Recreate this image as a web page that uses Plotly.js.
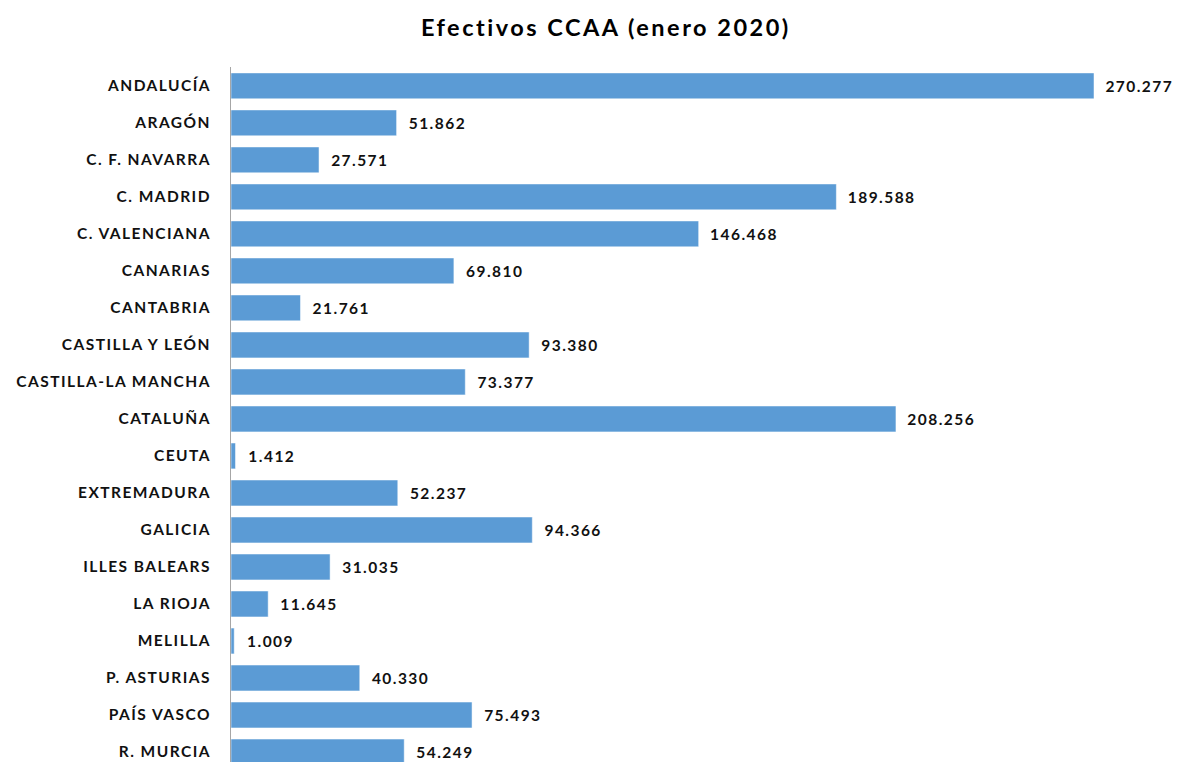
<!DOCTYPE html>
<html>
<head>
<meta charset="utf-8">
<script src="https://cdn.plot.ly/plotly-3.0.1.min.js"></script>
<style>
html,body{margin:0;padding:0;background:#fff;}
#chart{width:1181px;height:762px;}
#chart .ytick text{letter-spacing:1.45px;}
#chart .textpoint text, #chart text.bartext{letter-spacing:1.45px;}
#chart .gtitle{letter-spacing:2.5px;}
</style>
</head>
<body>
<div id="chart"></div>
<script>
const categories = ["ANDALUCÍA","ARAGÓN","C. F. NAVARRA","C. MADRID","C. VALENCIANA","CANARIAS","CANTABRIA","CASTILLA Y LEÓN","CASTILLA-LA MANCHA","CATALUÑA","CEUTA","EXTREMADURA","GALICIA","ILLES BALEARS","LA RIOJA","MELILLA","P. ASTURIAS","PAÍS VASCO","R. MURCIA"];
const efectivos = [270277,51862,27571,189588,146468,69810,21761,93380,73377,208256,1412,52237,94366,31035,11645,1009,40330,75493,54249];
const chartTitle = "Efectivos CCAA (enero 2020)";

const trace = {
  type: "bar",
  orientation: "h",
  y: categories,
  x: efectivos,
  width: 0.7,
  marker: {color: "#5B9BD5", line: {color: "#FFFFFF", width: 0.5}},
  texttemplate: "\u00a0\u00a0\u00a0%{x:,}",
  textposition: "outside",
  cliponaxis: false,
  constraintext: "none",
  textfont: {family: "Lato, 'Open Sans', sans-serif", size: 15.5, color: "#111111", weight: "bold"},
  hoverinfo: "none"
};

const layout = {
  width: 1181,
  height: 762,
  margin: {l: 231, r: 0, t: 67, b: 0},
  paper_bgcolor: "#ffffff",
  plot_bgcolor: "#ffffff",
  separators: ",.",
  showlegend: false,
  title: {
    text: chartTitle,
    font: {family: "Lato, 'Open Sans', sans-serif", size: 23.5, color: "#000000", weight: "bold"},
    x: 0.513, xref: "container", xanchor: "center",
    y: 0.963, yref: "container", yanchor: "middle"
  },
  xaxis: {
    range: [0, 297525],
    showgrid: false, zeroline: false, showline: false,
    showticklabels: false, ticks: ""
  },
  yaxis: {
    type: "category",
    range: [18.27, -0.51],
    showgrid: false, zeroline: false,
    showline: true, linecolor: "#A6A6A6", linewidth: 1,
    ticks: "", ticklabelstandoff: 16,
    tickfont: {family: "Lato, 'Open Sans', sans-serif", size: 15.5, color: "#111111", weight: "bold"}
  }
};

Plotly.newPlot("chart", [trace], layout, {displayModeBar: false, staticPlot: true});
</script>
</body>
</html>
